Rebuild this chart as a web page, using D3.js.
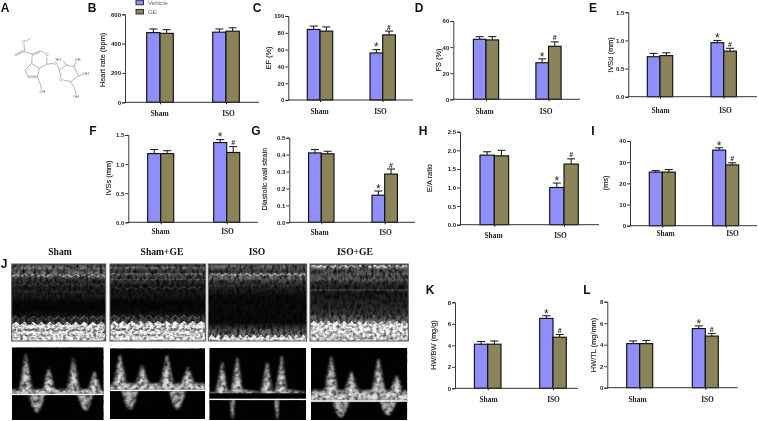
<!DOCTYPE html>
<html><head><meta charset="utf-8">
<script src="https://cdn.jsdelivr.net/npm/d3@7"></script>
<style>html,body{margin:0;padding:0;background:#fff;overflow:hidden}svg{display:block;filter:blur(.35px)}</style>
</head><body><svg id="c" width="758" height="421"></svg>
<script>
// ---- data ----
const groups = ["Sham","ISO"];
const seriesNames = ["Vehicle","GE"];
const heartRate=[475,470,478,485], heartRateTop=[500,495,500,508];
const ef=[84,82,56,77.5], efTop=[88,87,60,82];
const fs=[46,45.5,28,40.6], fsTop=[48,48,31,44];
const ivsd=[.71,.73,.96,.81], ivsdTop=[.77,.78,1.0,.86];
const ivss=[1.18,1.18,1.37,1.2], ivssTop=[1.25,1.23,1.42,1.30];
const strain=[.41,.405,.16,.285], strainTop=[.43,.42,.185,.315];
const eaRatio=[1.87,1.85,1.0,1.63], eaRatioTop=[1.96,2.0,1.12,1.77];
const ms=[25.3,25.3,35.7,28.7], msTop=[26,26.5,36.8,29.7];
const hwbw=[4.1,4.1,6.5,4.75], hwbwTop=[4.35,4.4,6.75,5.0];
const hwtl=[4.1,4.1,5.5,4.8], hwtlTop=[4.35,4.4,5.75,5.05];
const echoTitles=["Sham","Sham+GE","ISO","ISO+GE"];

// Doppler traces: time (% of frame), velocity (px-like units above baseline)
const dopplerTimes=[[15,40,67,90],[10.5,34,60,82],[13.5,29,60,75],[21,42,70,89]];
const dopplerPeaks=[[40,26,36,23],[35,25,35,23],[37,42,37,43],[44,29,42,25]];
const dopplerPlateau=[5,7,7,11];
const lobeTimes=[[27,80],[21,71],[24,70],[31,80]];
const lobeDepth=[[18,16],[19,19],[20,20],[16,14]];
// M-mode grey bands: depth fraction, grey level
const mBands=[
 [[0,70],[.04,115],[.08,85],[.12,120],[.17,95],[.2,60],[.3,32],[.42,30],[.5,8],[.6,6],[.66,20],[.7,45],[.76,70]],
 [[0,60],[.05,95],[.1,60],[.14,85],[.18,60],[.24,50],[.28,28],[.42,25],[.5,6],[.62,12],[.68,35],[.72,70],[.76,90]],
 [[0,75],[.05,100],[.1,60],[.13,100],[.18,120],[.22,70],[.28,40],[.35,32],[.42,12],[.76,12],[.82,50],[.88,95],[.93,125]],
 [[0,90],[.04,150],[.08,80],[.13,90],[.2,85],[.25,50],[.32,35],[.34,60],[.37,28],[.55,42],[.66,60],[.72,105],[.76,140]]];
// M-mode wall echoes: depth fraction, ripple, grey, stroke
const mWalls=[
 [[.06,.7,150,.8],[.15,1.2,215,1],[.27,1.1,90,.7],[.36,.8,60,.6]],
 [[.05,.3,170,.6],[.13,.5,170,.7],[.2,.6,130,.7],[.31,1.3,95,.7]],
 [[.03,.3,130,.7],[.14,.9,190,1.4],[.2,.7,110,.8],[.28,1,90,.7]],
 [[.03,1,225,1.4],[.13,.4,120,.7],[.2,1.2,130,.8],[.33,.3,90,.8]]];
const mWhiteFrom=[.77,.76,.94,.76];
const mBeats=[11,11,14,13];

// ---- layout ----
const blue="#8e8eff", olive="#8c8459";
const panels=[
 {k:"B",v:heartRate,t:heartRateTop,max:600,ticks:[0,200,400,600],y:"Heart rate (bpm)",ax:125,y0:102.3,yT:14.3,end:259,c:[160,226],bw:13.3,l:[159,228],ly:113,tx:102,ty:60,stars:0,fmt:"d"},
 {k:"C",v:ef,t:efTop,max:100,ticks:[0,20,40,60,80,100],y:"EF (%)",ax:288.3,y0:100,yT:16,end:413,c:[320,382.7],bw:12.7,l:[319,380],ly:111,tx:268,ty:58,stars:1,fmt:"d"},
 {k:"D",v:fs,t:fsTop,max:60,ticks:[0,20,40,60],y:"FS (%)",ax:453.3,y0:99.3,yT:21,end:580,c:[486,548.5],bw:12.6,l:[484,545.7],ly:111,tx:438,ty:60,stars:1,fmt:"d"},
 {k:"E",v:ivsd,t:ivsdTop,max:1.5,ticks:[0,.5,1,1.5],y:"IVSd (mm)",ax:628.3,y0:96.7,yT:12.3,end:757,c:[660,723.7],bw:12.7,l:[660,725],ly:110,tx:610.7,ty:55,stars:1,fmt:".1f"},
 {k:"F",v:ivss,t:ivssTop,max:1.5,ticks:[0,.5,1,1.5],y:"IVSs (mm)",ax:128.3,y0:222.3,yT:135,end:258,c:[160.7,226.7],bw:13,l:[160,227],ly:231,tx:108,ty:178,stars:1,fmt:".1f"},
 {k:"G",v:strain,t:strainTop,max:.5,ticks:[0,.1,.2,.3,.4,.5],y:"Diastolic wall strain",ax:289.3,y0:222.3,yT:137.7,end:415,c:[321.3,384.7],bw:12.7,l:[319,385],ly:232.3,tx:264,ty:179,stars:1,fmt:".1f"},
 {k:"H",v:eaRatio,t:eaRatioTop,max:2.5,ticks:[0,.5,1,1.5,2,2.5],y:"E/A ratio",ax:460,y0:224.7,yT:131.7,end:599,c:[494.3,564],bw:14.3,l:[493,560],ly:235,tx:429,ty:178,stars:1,fmt:".1f"},
 {k:"I",v:ms,t:msTop,max:40,ticks:[0,10,20,30,40],y:"(ms)",ax:630,y0:225.7,yT:141,end:757,c:[662.3,725.7],bw:13,l:[665,732],ly:233.3,tx:605.7,ty:183,stars:1,fmt:"d"},
 {k:"K",v:hwbw,t:hwbwTop,max:8,ticks:[0,2,4,6,8],y:"HW/BW (mg/g)",ax:455,y0:388.3,yT:302.3,end:578,c:[487.7,553],bw:13.3,l:[488,553],ly:399,tx:433,ty:345,stars:1,fmt:"d"},
 {k:"L",v:hwtl,t:hwtlTop,max:8,ticks:[0,2,4,6,8],y:"HW/TL (mg/mm)",ax:607.3,y0:387.7,yT:301.7,end:737.7,c:[639.7,705.3],bw:13,l:[637,707],ly:399,tx:593,ty:345,stars:1,fmt:"d"}
];
const letters=[["A",5,8],["B",92,8],["C",257,8],["D",419,8],["E",593,8],["F",93,131],["G",256,131],["H",423,131],["I",593,131],["J",4,264],["K",430,290],["L",587,290]];
const SANS="'Liberation Sans',Arial,sans-serif", SERIF="'Liberation Serif','Times New Roman',serif";
const svg=d3.select("#c");

// panel letters
svg.selectAll("text.letter").data(letters).join("text").attr("class","letter")
 .attr("x",d=>d[1]).attr("y",d=>d[2]).attr("dy","0.36em").attr("text-anchor","middle")
 .attr("font-family",SANS).attr("font-weight","bold").attr("font-size",12).attr("fill","#111").text(d=>d[0]);

// bar panels
panels.forEach(p=>{
 const g=svg.append("g");
 const y=d3.scaleLinear().domain([0,p.max]).range([p.y0,p.yT]);
 const x=d3.scalePoint().domain(groups).range(p.c);
 const xl=d3.scalePoint().domain(groups).range(p.l);
 const rows=p.v.map((v,i)=>({v,top:p.t[i],g:groups[i>>1],s:i%2}));
 const e=g.selectAll("g.err").data(rows).join("g");
 const cx=d=>x(d.g)+(d.s?p.bw/2:-p.bw/2);
 e.append("line").attr("x1",cx).attr("x2",cx).attr("y1",d=>y(d.v)).attr("y2",d=>y(d.top)).attr("stroke","#111").attr("stroke-width",1);
 e.append("line").attr("x1",d=>cx(d)-4).attr("x2",d=>cx(d)+4).attr("y1",d=>y(d.top)).attr("y2",d=>y(d.top)).attr("stroke","#111").attr("stroke-width",1);
 g.selectAll("rect").data(rows).join("rect")
  .attr("x",d=>x(d.g)+(d.s?0:-p.bw)).attr("width",p.bw)
  .attr("y",d=>y(d.v)).attr("height",d=>y(0)-y(d.v))
  .attr("fill",d=>d.s?olive:blue).attr("stroke","#111").attr("stroke-width",1.15);
 const ay=g.append("g").attr("transform",`translate(${p.ax},0)`)
  .call(d3.axisLeft(y).tickValues(p.ticks).tickSize(3).tickPadding(1).tickFormat(d3.format(p.fmt)));
 ay.selectAll("text").attr("font-family",SANS).attr("font-size",6).attr("font-weight","bold").attr("fill","#222");
 ay.selectAll("line,path").attr("stroke","#222").attr("stroke-width",.9);
 const ax=g.append("g").attr("transform",`translate(0,${p.y0})`).call(d3.axisBottom(x).tickSize(2).tickFormat(""));
 ax.select("path").remove();
 ax.selectAll("line").attr("stroke","#222");
 g.append("line").attr("x1",p.ax).attr("x2",p.end).attr("y1",p.y0).attr("y2",p.y0).attr("stroke","#333").attr("stroke-width",1);
 const al=g.append("g").attr("transform",`translate(0,${p.ly})`).call(d3.axisBottom(xl).tickSize(0).tickPadding(0));
 al.select("path").remove();
 al.selectAll("text").attr("y",0).attr("dy","0.36em").attr("font-family",SERIF).attr("font-weight","bold").attr("font-size",7.4).attr("fill","#222");
 g.append("text").attr("transform",`translate(${p.tx},${p.ty}) rotate(-90)`).attr("text-anchor","middle").attr("dy","0.36em")
  .attr("font-family",SANS).attr("font-size",7.4).attr("fill","#222").attr("stroke","#222").attr("stroke-width",.12).text(p.y);
 if(p.stars){
  g.append("text").attr("x",cx(rows[2])).attr("y",y(rows[2].top)+1.8).attr("text-anchor","middle").attr("font-family",SANS).attr("font-size",12).attr("fill","#222").text("*");
  g.append("text").attr("x",cx(rows[3])).attr("y",y(rows[3].top)-1.5).attr("text-anchor","middle").attr("font-family",SANS).attr("font-size",7).attr("font-weight","bold").attr("fill","#222").text("#");
 }
});

// legend
seriesNames.forEach((n,i)=>{
 const yy=[2.5,11.7][i];
 svg.append("rect").attr("x",136).attr("y",yy-2.3).attr("width",7.5).attr("height",4.6).attr("fill",i?olive:blue).attr("stroke","#222").attr("stroke-width",.9);
 svg.append("text").attr("x",148).attr("y",yy).attr("dy","0.36em").attr("font-family",SANS).attr("font-size",6.2).attr("fill","#666").text(n);
});

// chemical structure A (skeleton in 3x sketch units)
const sk=d3.scaleLinear().domain([0,3]).range([0,1]);
const bonds=[[78,123,92,115],[72,132,74,155],[74,155,52,163],[72,151,52,160],[74,155,97,162],[97,162,120,152],[100,165,120,156],[120,152,136,160],[141,172,140,193],[140,193,118,205],[118,205,95,190],[95,190,97,162],[95,190,75,210],[75,210,85,232],[85,232,112,232],[85,228,110,228],[112,232,118,205],[112,232,122,255],[122,255,125,268],[140,193,160,190],[172,196,178,210],[178,210,200,195],[200,195,222,200],[222,200,235,228],[235,228,212,245],[212,245,190,240],[183,232,178,210],[200,195,190,183],[222,200,228,185],[235,228,250,222],[212,245,225,268],[225,268,228,283]];
const atoms=[["O",71,125],["O",48,165],["O",141,165],["O",166,192],["O",183,238],["HO",175,178],["OH",233,178],["OH",258,221],["OH",127,275],["OH",228,290]];
const chem=svg.append("g");
chem.selectAll("line").data(bonds).join("line").attr("x1",d=>sk(d[0])).attr("y1",d=>sk(d[1])).attr("x2",d=>sk(d[2])).attr("y2",d=>sk(d[3])).attr("stroke","#777").attr("stroke-width",.55);
chem.selectAll("text").data(atoms).join("text").attr("x",d=>sk(d[1])).attr("y",d=>sk(d[2])).attr("dy","0.36em").attr("text-anchor","middle").attr("font-family",SANS).attr("font-size",3.8).attr("fill","#555").text(d=>d[0]);

// echo titles
const titleX=[60,162,257,355];
svg.selectAll("text.et").data(echoTitles).join("text").attr("class","et").attr("x",(d,i)=>titleX[i]).attr("y",252).attr("dy","0.36em").attr("text-anchor","middle")
 .attr("font-family",SERIF).attr("font-weight","bold").attr("font-size",9.6).attr("fill","#111").text(d=>d);

// echo images
const defs=svg.append("defs");
const soft=defs.append("filter").attr("id","soft").attr("x","-10%").attr("y","-10%").attr("width","120%").attr("height","120%");
soft.append("feGaussianBlur").attr("stdDeviation",.8);
const soft2=defs.append("filter").attr("id","soft2");
soft2.append("feGaussianBlur").attr("stdDeviation",.45);
function speck(id,freq,oct,a,b){
 const f=defs.append("filter").attr("id",id).attr("x",0).attr("y",0).attr("width","100%").attr("height","100%");
 f.append("feTurbulence").attr("type","fractalNoise").attr("baseFrequency",freq).attr("numOctaves",oct).attr("seed",7);
 f.append("feColorMatrix").attr("values",`0 0 0 0 0  0 0 0 0 0  0 0 0 0 0  0 0 0 ${a} ${b}`);
 f.append("feGaussianBlur").attr("stdDeviation",.5);
}
speck("speckM","0.35 0.2",2,1.8,-0.65);
speck("speckL","0.3 0.35",2,1.5,-0.6);
speck("speckD","0.22 0.25",2,1.6,-0.6);
const grey=v=>`rgb(${v},${v},${v})`;
const mFrames=[[11.7,105.7],[110,205.7],[208.3,306.7],[310,408.3]];
const dFrames=[[12,103.7,347.3,420,394.3],[110,205,348.3,419,390.3],[209.3,306,348,420,399.3],[311,407.3,348,420,401]];

mFrames.forEach((f,i)=>{
 const top=264,bot=341,w=f[1]-f[0],h=bot-top;
 const gid="mg"+i;
 const lg=defs.append("linearGradient").attr("id",gid).attr("x1",0).attr("x2",0).attr("y1",0).attr("y2",1);
 lg.selectAll("stop").data(mBands[i]).join("stop").attr("offset",d=>d[0]).attr("stop-color",d=>grey(d[1]));
 defs.append("clipPath").attr("id","mc"+i).append("rect").attr("x",f[0]).attr("y",top).attr("width",w).attr("height",h);
 const g=svg.append("g").attr("clip-path",`url(#mc${i})`);
 g.append("rect").attr("x",f[0]).attr("y",top).attr("width",w).attr("height",h).attr("fill",`url(#${gid})`);
 const n=mBeats[i];
 const tx=d3.scaleLinear().domain([0,n*2]).range([f[0],f[1]]);
 const depth=d3.scaleLinear().domain([0,1]).range([top,bot]);
 const zig=(yf,amp)=>d3.line().x(k=>tx(k)).y(k=>depth(yf)+(k%2?-amp:amp))(d3.range(0,n*2+1));
 mWalls[i].forEach(r=>{
  g.append("path").attr("d",zig(r[0],r[1])).attr("fill","none").attr("stroke",grey(r[2])).attr("stroke-width",r[3]).attr("filter","url(#soft2)");
 });
 const wf=mWhiteFrom[i];
 g.append("path").attr("d",zig(wf-.07,1.8)).attr("fill","none").attr("stroke",grey(115)).attr("stroke-width",1).attr("filter","url(#soft2)");
 g.append("rect").attr("x",f[0]).attr("y",top).attr("width",w).attr("height",h).attr("filter","url(#speckM)");
 const area=d3.area().x(k=>tx(k)).y0(bot+2).y1(k=>depth(wf)+(k%2?-1.6:1.6));
 g.append("path").attr("d",area(d3.range(0,n*2+1))).attr("fill","#f6f6f6").attr("filter","url(#soft2)");
 if(i<2){
  g.append("path").attr("d",zig(wf+.09,1.1)).attr("fill","none").attr("stroke",grey(135)).attr("stroke-width",1.5).attr("stroke-dasharray","5 1.5").attr("filter","url(#soft2)");
  g.append("path").attr("d",zig(wf+.16,.7)).attr("fill","none").attr("stroke",grey(165)).attr("stroke-width",.9).attr("stroke-dasharray","3 1.5").attr("filter","url(#soft2)");
 }
 if(i===3){
  g.append("path").attr("d",zig(.95,3)).attr("fill","none").attr("stroke",grey(205)).attr("stroke-width",2.2).attr("filter","url(#soft2)");
  d3.range(1,n,1).forEach(k=>{g.append("line").attr("x1",tx(k*2)).attr("x2",tx(k*2)).attr("y1",depth(.5)).attr("y2",depth(.64)).attr("stroke",grey(85)).attr("stroke-width",.9).attr("filter","url(#soft2)");});
 }
 g.append("rect").attr("x",f[0]).attr("y",depth(wf)).attr("width",w).attr("height",h*(1-wf)).attr("filter","url(#speckL)");
 svg.append("rect").attr("x",f[0]).attr("y",top).attr("width",w).attr("height",h).attr("fill","none").attr("stroke","#555").attr("stroke-width",1);
});

dFrames.forEach((f,i)=>{
 const [x0,x1,top,bot,base]=f;
 defs.append("clipPath").attr("id","dc"+i).append("rect").attr("x",x0).attr("y",top).attr("width",x1-x0).attr("height",bot-top);
 const g=svg.append("g").attr("clip-path",`url(#dc${i})`);
 g.append("rect").attr("x",x0).attr("y",top).attr("width",x1-x0).attr("height",bot-top).attr("fill","#020202");
 const t=d3.scaleLinear().domain([0,100]).range([x0,x1]);
 const v=d3.scaleLinear().domain([0,1]).range([base,base-1]);
 const pl=dopplerPlateau[i];
 const pts=[[0,0],[0,pl]];
 dopplerTimes[i].forEach((tm,j)=>{
  const pk=dopplerPeaks[i][j];
  pts.push([tm-7,pl],[tm-.7,pk],[tm+.7,pk],[tm+(i===2?5:7),pl+(i===2?3:0)]);
 });
 pts.push([100,pl],[100,0]);
 const line=d3.line().x(d=>t(d[0])).y(d=>v(d[1])).curve(d3.curveLinear);
 g.append("path").attr("d",line(pts)+"Z").attr("fill","#a8a8a8").attr("filter","url(#soft)");
 const core=[[0,1],[0,pl*.6]];
 dopplerTimes[i].forEach((tm,j)=>{
  const pk=dopplerPeaks[i][j];
  core.push([tm-3.5,pl*.7],[tm,pk*.75],[tm+3.5,pl*.7]);
 });
 core.push([100,pl*.6],[100,1]);
 g.append("path").attr("d",line(core)+"Z").attr("fill","#e2e2e2").attr("filter","url(#soft)");
 lobeTimes[i].forEach((tm,j)=>{
  const dp=lobeDepth[i][j];
  const wd=i===2?2.5:9;
  const lob=[[tm-wd,0],[tm-wd*.55,-dp*.7],[tm-wd*.15,-dp],[tm+wd*.2,-dp],[tm+wd*.6,-dp*.6],[tm+wd,0]];
  g.append("path").attr("d",line(lob)+"Z").attr("fill",i===2?"#b8b8b8":"#b0b0b0").attr("filter","url(#soft)");
 });
 g.append("rect").attr("x",x0).attr("y",top).attr("width",x1-x0).attr("height",bot-top).attr("filter","url(#speckD)");
 if(i===2){ g.append("rect").attr("x",x0).attr("y",v(6)).attr("width",x1-x0).attr("height",5.5).attr("fill","#020202"); }
 g.append("line").attr("x1",x0).attr("x2",x1).attr("y1",v(0)).attr("y2",v(0)).attr("stroke","#fff").attr("stroke-width",1.3);
});
</script></body></html>
